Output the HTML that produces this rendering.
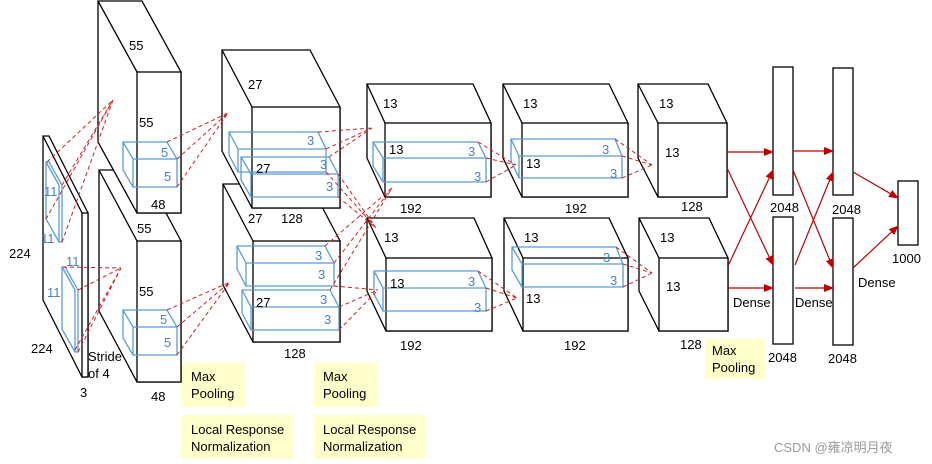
<!DOCTYPE html>
<html><head><meta charset="utf-8"><style>
html,body{margin:0;padding:0;background:#fff;}
svg{display:block;}
text{font-family:"Liberation Sans","Noto Sans CJK SC",sans-serif;font-size:13px;fill:#000;}
.b{fill:#4a7fc1;}
.k{fill:none;stroke:#5b9bd5;stroke-width:1.3;}
.c{fill:#fff;stroke:#000;stroke-width:1.3;}
.l{stroke:#000;stroke-width:1.3;fill:none;}
.d{stroke:#d02020;stroke-width:1;stroke-dasharray:4,3;fill:none;}
.a{stroke:#c00000;stroke-width:1.2;fill:none;marker-end:url(#ar);}
.y{fill:#ffffcc;}
</style></head><body>
<svg width="932" height="464" viewBox="0 0 932 464" xmlns="http://www.w3.org/2000/svg">
<defs><marker id="ar" markerWidth="10" markerHeight="8" refX="9" refY="4" orient="auto" markerUnits="userSpaceOnUse"><path d="M0,0 L10,4 L0,8 z" fill="#c00000"/></marker></defs>

<!-- input -->
<polygon class="c" points="43,136 49,136 88,213 88,377 82,377 43,300"/>
<line class="l" x1="43" y1="136" x2="82" y2="213"/>
<rect class="c" x="82" y="213" width="6" height="164"/>
<polygon class="k" points="46,162 49,162 62,185 62,242 59,242 46,219"/><line class="k" x1="46" y1="162" x2="59" y2="185"/><line class="k" x1="59" y1="185" x2="59" y2="242"/>
<polygon class="k" points="62,267 65,267 78,290 78,352 75,352 62,329"/><line class="k" x1="62" y1="267" x2="75" y2="290"/><line class="k" x1="75" y1="290" x2="75" y2="352"/>

<!-- conv1 bottom -->
<polygon class="c" points="99,170 143,170 181,241 181,382 137,382 99,311"/>
<line class="l" x1="99" y1="170" x2="137" y2="241"/><rect class="c" x="137" y="241" width="44" height="141"/>
<!-- conv1 top -->
<polygon class="c" points="98,1 142,1 181,72 181,213 137,213 98,142"/>
<line class="l" x1="98" y1="1" x2="137" y2="72"/><rect class="c" x="137" y="72" width="44" height="141"/>
<polygon class="k" points="123,142 167,142 177,159 177,187 133,187 123,170"/><polyline class="k" points="123,142 133,159 177,159"/><line class="k" x1="133" y1="159" x2="133" y2="187"/>
<polygon class="k" points="123,310 167,310 177,327 177,355 133,355 123,338"/><polyline class="k" points="123,310 133,327 177,327"/><line class="k" x1="133" y1="327" x2="133" y2="355"/>

<!-- conv2 bottom -->
<polygon class="c" points="223,184 310,184 340,241 340,342 253,342 223,285"/>
<line class="l" x1="223" y1="184" x2="253" y2="241"/><rect class="c" x="253" y="241" width="87" height="101"/>
<!-- conv2 top -->
<polygon class="c" points="222,50 310,50 340,107 340,208 252,208 222,151"/>
<line class="l" x1="222" y1="50" x2="252" y2="107"/><rect class="c" x="252" y="107" width="88" height="101"/>
<polygon class="k" points="229,132 318,132 326,149 326,172 238,172 229,155"/><polyline class="k" points="229,132 238,149 326,149"/><line class="k" x1="238" y1="149" x2="238" y2="172"/>
<polygon class="k" points="241,157 329,157 338,174 338,197 251,197 241,180"/><polyline class="k" points="241,157 251,174 338,174"/><line class="k" x1="251" y1="174" x2="251" y2="197"/>
<polygon class="k" points="237,246 325,246 334,263 334,286 246,286 237,269"/><polyline class="k" points="237,246 246,263 334,263"/><line class="k" x1="246" y1="263" x2="246" y2="286"/>
<polygon class="k" points="242,290 330,290 339,307 339,330 251,330 242,313"/><polyline class="k" points="242,290 251,307 339,307"/><line class="k" x1="251" y1="307" x2="251" y2="330"/>

<!-- conv3 -->
<polygon class="c" points="367,84 473,84 491,123 491,197 385,197 367,158"/>
<line class="l" x1="367" y1="84" x2="385" y2="123"/><rect class="c" x="385" y="123" width="106" height="74"/>
<polygon class="c" points="367,218 474,218 492,258 492,331 386,331 367,291"/>
<line class="l" x1="367" y1="218" x2="386" y2="258"/><rect class="c" x="386" y="258" width="106" height="73"/>
<polygon class="k" points="373,142 478,142 486,158 486,182 383,182 373,166"/><polyline class="k" points="373,142 383,158 486,158"/><line class="k" x1="383" y1="158" x2="383" y2="182"/>
<polygon class="k" points="374,271 478,271 486,288 486,311 383,311 374,294"/><polyline class="k" points="374,271 383,288 486,288"/><line class="k" x1="383" y1="288" x2="383" y2="311"/>

<!-- conv4 -->
<polygon class="c" points="503,84 609,84 628,123 628,197 522,197 503,158"/>
<line class="l" x1="503" y1="84" x2="522" y2="123"/><rect class="c" x="522" y="123" width="106" height="74"/>
<polygon class="c" points="504,218 609,218 628,258 628,331 523,331 504,291"/>
<line class="l" x1="504" y1="218" x2="523" y2="258"/><rect class="c" x="523" y="258" width="105" height="73"/>
<polygon class="k" points="511,139 615,139 622,156 622,178 519,178 511,161"/><polyline class="k" points="511,139 519,156 622,156"/><line class="k" x1="519" y1="156" x2="519" y2="178"/>
<polygon class="k" points="512,247 616,247 623,264 623,287 522,287 512,270"/><polyline class="k" points="512,247 522,264 623,264"/><line class="k" x1="522" y1="264" x2="522" y2="287"/>

<!-- conv5 -->
<polygon class="c" points="638,84 708,84 727,123 727,197 658,197 638,158"/>
<line class="l" x1="638" y1="84" x2="658" y2="123"/><rect class="c" x="658" y="123" width="69" height="74"/>
<polygon class="c" points="639,218 709,218 728,258 728,331 659,331 639,291"/>
<line class="l" x1="639" y1="218" x2="659" y2="258"/><rect class="c" x="659" y="258" width="69" height="73"/>

<!-- dense -->
<rect class="c" x="773" y="67" width="20" height="128"/>
<rect class="c" x="773" y="217" width="20" height="127"/>
<rect class="c" x="833" y="68" width="20" height="127"/>
<rect class="c" x="833" y="218" width="20" height="127"/>
<rect class="c" x="898" y="181" width="20" height="64"/>

<!-- dashed lines -->
<g class="d">
<path d="M47,162 L113,100 M62,185 L113,100 M62,242 L113,100 M46,219 L113,100"/>
<path d="M63,267 L121,268 M78,290 L121,268 M78,352 L121,268 M75,350 L121,268"/>
<path d="M167,142 L228,113 M177,159 L228,113 M177,187 L228,113"/>
<path d="M167,310 L230,282 M177,327 L230,282 M177,355 L230,282"/>
<path d="M318,132 L372,128 M326,149 L372,128 M326,172 L376,228 M338,174 L376,228 M329,157 L372,128 M338,197 L376,228"/>
<path d="M325,246 L392,188 M334,263 L392,188 M334,286 L378,290 M339,307 L378,290 M339,330 L378,290 M330,290 L392,188"/>
<path d="M478,142 L516,165 M486,158 L516,165 M486,182 L516,165"/>
<path d="M478,271 L517,298 M486,288 L517,298 M486,311 L517,298"/>
<path d="M615,139 L652,165 M622,156 L652,165 M622,178 L652,165"/>
<path d="M616,247 L652,273 M623,264 L652,273 M623,287 L652,273"/>
</g>

<!-- arrows -->
<line class="a" x1="727" y1="152" x2="773" y2="152"/>
<line class="a" x1="727" y1="168" x2="773" y2="265"/>
<line class="a" x1="728" y1="266" x2="773" y2="170"/>
<line class="a" x1="728" y1="288" x2="773" y2="288"/>
<line class="a" x1="793" y1="151" x2="833" y2="151"/>
<line class="a" x1="793" y1="170" x2="833" y2="268"/>
<line class="a" x1="795" y1="265" x2="833" y2="172"/>
<line class="a" x1="795" y1="288" x2="833" y2="288"/>
<line class="a" x1="853" y1="172" x2="898" y2="198"/>
<line class="a" x1="853" y1="268" x2="898" y2="226"/>

<!-- yellow boxes -->
<rect class="y" x="182" y="363" width="63" height="44"/>
<rect class="y" x="182" y="415" width="111" height="44"/>
<rect class="y" x="314" y="363" width="63" height="44"/>
<rect class="y" x="314" y="415" width="111" height="44"/>
<rect class="y" x="705" y="339" width="60" height="40"/>
<text x="191" y="381">Max</text><text x="191" y="398">Pooling</text>
<text x="191" y="434">Local Response</text><text x="191" y="451">Normalization</text>
<text x="323" y="381">Max</text><text x="323" y="398">Pooling</text>
<text x="323" y="434">Local Response</text><text x="323" y="451">Normalization</text>
<text x="712" y="355">Max</text><text x="712" y="372">Pooling</text>

<!-- labels -->
<text x="9" y="258">224</text><text x="31" y="353">224</text><text x="80" y="397">3</text>
<text x="88" y="361">Stride</text><text x="88" y="378">of 4</text>
<text class="b" x="44" y="196">11</text><text class="b" x="41" y="243">11</text>
<text class="b" x="66" y="266">11</text><text class="b" x="47" y="297">11</text>
<text x="129" y="50">55</text><text x="139" y="127">55</text><text x="137" y="233">55</text><text x="139" y="296">55</text>
<text x="151" y="209">48</text><text x="151" y="401">48</text>
<text class="b" x="161" y="157">5</text><text class="b" x="164" y="181">5</text>
<text class="b" x="160" y="324">5</text><text class="b" x="164" y="347">5</text>
<text x="248" y="89">27</text><text x="256" y="173">27</text><text x="248" y="223">27</text><text x="281" y="223">128</text>
<text x="256" y="307">27</text><text x="284" y="358">128</text>
<text class="b" x="307" y="145">3</text><text class="b" x="320" y="169">3</text><text class="b" x="326" y="191">3</text>
<text class="b" x="315" y="260">3</text><text class="b" x="318" y="279">3</text><text class="b" x="320" y="304">3</text><text class="b" x="324" y="324">3</text>
<text x="383" y="108">13</text><text x="389" y="154">13</text><text class="b" x="468" y="156">3</text><text class="b" x="474" y="181">3</text>
<text x="384" y="242">13</text><text x="390" y="288">13</text><text class="b" x="468" y="286">3</text><text class="b" x="474" y="312">3</text>
<text x="400" y="213">192</text><text x="400" y="350">192</text>
<text x="523" y="108">13</text><text x="526" y="168">13</text><text class="b" x="602" y="154">3</text><text class="b" x="610" y="178">3</text>
<text x="524" y="242">13</text><text x="526" y="303">13</text><text class="b" x="603" y="262">3</text><text class="b" x="610" y="285">3</text>
<text x="565" y="213">192</text><text x="564" y="350">192</text>
<text x="659" y="108">13</text><text x="665" y="157">13</text><text x="660" y="242">13</text><text x="666" y="291">13</text>
<text x="681" y="211">128</text><text x="680" y="349">128</text>
<text x="770" y="212">2048</text><text x="832" y="214">2048</text><text x="768" y="362">2048</text><text x="828" y="363">2048</text>
<text x="892" y="263">1000</text>
<text x="733" y="307">Dense</text><text x="795" y="307">Dense</text><text x="858" y="287">Dense</text>
<text x="774" y="452" style="fill:#9a9a9a;font-size:13px">CSDN @雍凉明月夜</text>
</svg>
</body></html>
